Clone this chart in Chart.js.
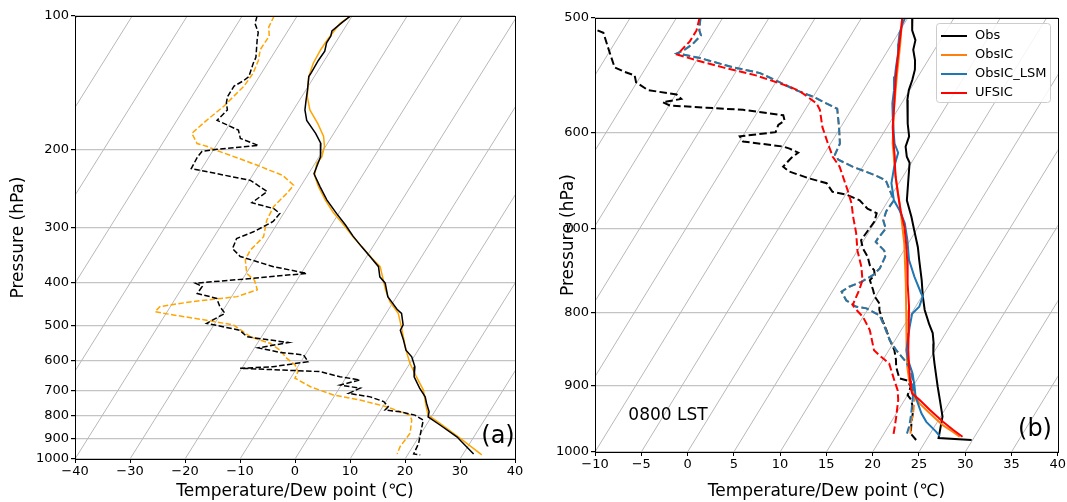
<!DOCTYPE html>
<html>
<head>
<meta charset="utf-8">
<script src="https://cdn.jsdelivr.net/npm/chart.js@4.4.1/dist/chart.umd.min.js"></script>
<style>
body { margin: 0; background: #fff; width: 1067px; height: 502px; overflow: hidden; position: relative; }
canvas { position: absolute; top: 0; }
#chartA { left: 0; }
#chartB { left: 530px; }
</style>
</head>
<body>
<canvas id="chartA" width="530" height="502"></canvas>
<canvas id="chartB" width="537" height="502"></canvas>
<script>
// ---- panel (a): pressure (hPa) and temperature / dew point (degC) ----
const aObsTempP = [100,103,108,111,115,120,126,134,137,147,155,163,172,184,194,204,208,227,243,260,279,296,314,332,349,368,388,401,430,442,459,469,498,512,539,568,588,619,652,692,724,749,782,803,838,891,974]
const aObsTemp = [-40.3,-41.0,-42.0,-41.6,-41.6,-41.0,-41.1,-41.0,-41.0,-39.7,-38.8,-37.9,-36.4,-33.3,-31.2,-30.2,-29.7,-29.0,-26.4,-23.7,-20.4,-17.5,-14.8,-12.0,-9.4,-6.7,-5.3,-3.6,-1.6,-0.3,1.5,2.8,4.4,4.5,6.2,7.8,9.6,11.3,12.3,14.6,16.6,17.6,19.0,19.4,22.5,26.9,31.9]

const aModTempP = [100,104,113,119,128,137,152,163,175,187,197,208,215,229,243,260,277,295,316,335,352,368,388,415,442,469,503,568,608,652,699,762,796,831,898,979]
const aModTemp = [-40.3,-41.4,-41.8,-41.9,-41.7,-41.0,-39.0,-37.0,-34.0,-31.5,-30.2,-29.5,-29.7,-28.7,-26.7,-24.0,-21.2,-18.0,-14.6,-11.5,-8.9,-6.4,-4.8,-2.8,-0.6,2.2,4.3,7.8,10.0,12.7,15.5,17.9,19.2,22.3,27.7,33.5]

const aObsDewP = [100,104,109,113,124,128,137,140,144,152,157,163,172,181,189,196,200,202,208,221,235,249,264,272,279,291,307,318,335,349,368,381,391,401,408,423,434,453,469,494,512,530,546,561,575,582,603,619,624,635,652,663,681,692,711,724,742,762,775,782,796,817,875,922,974,979]
const aObsDew = [-57.3,-56.8,-55.2,-54.6,-52.8,-52.6,-51.9,-52.4,-53.5,-53.5,-53.0,-52.0,-52.7,-47.7,-46.4,-42.3,-49.4,-51.9,-52.1,-51.9,-39.8,-35.5,-37.0,-32.4,-30.7,-31.0,-33.4,-35.7,-35.3,-33.0,-25.8,-19.0,-28.2,-38.1,-36.5,-36.6,-32.5,-31.0,-29.3,-31.5,-24.7,-22.6,-14.4,-19.3,-14.8,-10.3,-8.7,-14.5,-20.3,-5.4,-1.2,2.8,-0.2,3.8,2.3,6.6,9.6,11.0,10.8,13.7,16.8,18.9,19.9,20.7,21.0,22.3]

const aModDewP = [100,106,111,119,126,135,144,160,172,184,194,197,201,210,217,229,241,251,269,289,315,338,355,381,395,415,430,442,453,465,473,486,498,516,530,548,568,592,613,635,657,687,717,736,762,796,817,875,938,974]
const aModDew = [-54.2,-53.9,-52.8,-52.9,-52.0,-51.5,-51.7,-53.1,-54.6,-55.8,-53.7,-51.5,-49.4,-44.2,-40.4,-34.5,-31.4,-31.7,-32.6,-32.3,-31.0,-31.9,-31.7,-29.9,-27.7,-26.1,-29.0,-37.0,-41.9,-42.2,-38.5,-31.9,-26.5,-23.9,-22.0,-17.7,-15.1,-13.0,-10.7,-9.4,-9.2,-5.4,-0.3,5.1,10.7,15.9,16.8,18.0,17.7,18.0]

// ---- panel (b) ----
const bObsTempP = [500,510,518,526,535,543,552,561,570,579,592,604,614,624,630,651,669,687,702,721,736,760,780,797,815,827,841,854,868,887,901,920,945,978,981]
const bObsTemp = [-4.5,-3.7,-2.7,-2.3,-1.4,-0.8,-0.4,-0.1,0.4,1.1,2.0,3.0,3.3,4.1,4.8,6.0,7.0,8.6,9.8,11.3,12.3,13.9,15.1,16.2,17.6,18.6,19.4,20.0,20.8,21.9,22.7,23.8,25.2,26.2,29.9]
const bObsDewP = [510,512,526,541,545,548,554,561,565,569,572,575,577,579,584,589,593,600,604,609,614,616,620,625,634,639,646,651,660,663,669,678,683,692,702,713,722,732,742,748,754,760,772,780,789,797,810,823,836,850,863,873,889,892,901,913,920,935,953,971,981]
const bObsDew = [-37.7,-36.9,-35.2,-33.4,-32.0,-30.7,-30.1,-28.3,-24.9,-24.1,-25.9,-24.9,-20.8,-16.7,-12.0,-11.5,-11.9,-11.7,-15.3,-14.6,-9.9,-9.1,-7.9,-8.3,-8.6,-7.6,-5.0,-2.8,-1.6,0.1,1.9,3.3,4.6,4.9,4.8,4.7,5.4,6.5,7.3,8.1,8.5,8.3,9.3,9.9,10.9,11.3,12.3,13.4,14.4,15.6,16.4,16.9,18.0,19.0,19.8,20.0,20.7,21.6,22.2,22.9,23.9]

const bIcTempP = [500,521,549,579,611,644,680,717,764,797,827,850,873,892,906,925,940,958,968,976]
const bIcTemp = [-5.6,-4.1,-2.3,-0.4,1.7,4.2,7.0,9.6,12.4,14.2,15.8,16.9,18.1,19.2,20.2,21.8,23.6,25.8,27.3,28.4]
const bIcDewP = [500,510,514,521,526,529,533,541,546,554,561,567,578,595,611,622,627,634,643,648,669,681,691,700,711,715,725,732,746,754,762,768,774,785,793,795,804,819,836,850,863,877,894,916,940,958,976]
const bIcDew = [-27.4,-26.7,-26.2,-26.5,-27.0,-27.6,-24.8,-20.6,-17.3,-14.6,-12.3,-10.0,-6.6,-5.2,-4.0,-3.8,-3.1,-1.1,2.0,3.4,5.6,5.5,5.8,6.6,6.4,6.4,7.9,8.4,8.6,8.3,7.5,6.5,6.0,7.1,8.6,9.8,11.7,13.0,14.4,15.8,17.3,18.7,19.7,20.9,21.8,22.3,23.1]

const bLsmTempP = [500,504,512,521,529,541,549,561,573,585,598,611,620,634,651,669,680,694,713,736,756,776,780,793,802,819,850,863,882,901,916,940,953,968,975]
const bLsmTemp = [-5.3,-5.2,-4.9,-4.3,-3.7,-3.0,-2.5,-1.7,-1.0,-0.1,0.9,1.9,2.9,3.4,4.2,5.6,6.9,8.3,9.7,11.2,12.9,14.7,15.1,15.4,15.1,15.7,16.9,17.7,19.1,20.2,21.0,22.7,23.8,25.5,26.2]
const bLsmDewP = [500,510,514,521,526,529,533,541,546,554,561,567,578,595,611,622,627,634,643,648,669,681,691,700,711,715,725,732,746,754,762,768,774,785,793,795,804,819,836,850,863,877,894,916,940,958,976]
const bLsmDew = [-27.4,-26.7,-26.2,-26.5,-27.0,-27.6,-24.8,-20.6,-17.3,-14.6,-12.3,-10.0,-6.6,-5.2,-4.0,-3.8,-3.1,-1.1,2.0,3.4,5.6,5.5,5.8,6.6,6.4,6.4,7.9,8.4,8.6,8.3,7.5,6.5,6.0,7.1,8.6,9.8,11.7,13.0,14.4,15.8,17.3,18.7,19.7,20.7,21.6,22.2,22.6]

const bUfsTempP = [500,510,521,535,549,564,579,595,611,624,630,644,662,680,698,717,736,764,793,827,850,873,892,903,911,920,935,953,965,976]
const bUfsTemp = [-5.6,-4.9,-4.2,-3.3,-2.4,-1.4,-0.4,0.6,1.8,2.8,3.2,4.2,5.6,7.0,8.5,9.8,11.0,12.6,14.3,16.0,17.1,18.3,19.3,19.9,20.4,21.6,23.4,25.6,27.2,28.7]
const bUfsDewP = [500,510,519,528,530,535,541,548,558,562,573,579,595,611,624,634,658,672,687,705,725,744,760,772,791,796,806,823,850,859,868,892,906,920,945,960,976]
const bUfsDew = [-27.5,-27.0,-27.0,-27.4,-27.5,-25.0,-21.7,-17.6,-13.2,-11.8,-9.2,-8.4,-7.0,-5.3,-3.9,-2.5,-0.1,1.2,2.3,3.7,5.0,6.5,7.5,7.8,8.1,8.7,10.0,11.6,13.4,14.6,15.9,17.6,18.6,19.3,20.2,20.7,21.2]

const aPressTicks = [100,200,300,400,500,600,700,800,900,1000]
const bPressTicks = [500,600,700,800,900,1000]
const bLegend = [['Obs', '#000000'], ['ObsIC', '#ff7f0e'], ['ObsIC_LSM', '#1f77b4'], ['UFSIC', '#ff0000']]

// degC shift of the isotherms per decade of pressure
const A_SKEW = 50.4
const B_SKEW = 95.65

const FONT = "'DejaVu Sans', sans-serif"
Chart.defaults.font.family = FONT
Chart.defaults.color = '#000'

const skewed = (temps, pres, skew) => pres.map((p, i) => ({ x: temps[i] + skew * Math.log10(1000 / p), y: p }))

const line = (label, data, color, width, dash) => ({
    label, data,
    showLine: true,
    borderColor: color,
    borderWidth: width,
    borderDash: dash || [],
    pointRadius: 0,
    fill: false,
    tension: 0
})

const skewGrid = {
    id: 'skewGrid',
    beforeDatasetsDraw(chart, args, opts) {
        const { ctx, chartArea: a, scales: { x, y } } = chart
        ctx.save()
        ctx.beginPath()
        ctx.rect(a.left, a.top, a.right - a.left, a.bottom - a.top)
        ctx.clip()
        ctx.strokeStyle = '#b8b8b8'
        ctx.lineWidth = 1
        const top = y.min
        for (let t = opts.from; t <= opts.to; t += opts.step) {
            ctx.beginPath()
            ctx.moveTo(x.getPixelForValue(t), y.getPixelForValue(1000))
            ctx.lineTo(x.getPixelForValue(t + opts.skew * Math.log10(1000 / top)), y.getPixelForValue(top))
            ctx.stroke()
        }
        ctx.restore()
    }
}

const frame = {
    id: 'frame',
    afterDraw(chart, args, opts) {
        const { ctx, chartArea: a } = chart
        ctx.save()
        ctx.strokeStyle = '#000'
        ctx.lineWidth = 1
        ctx.strokeRect(Math.round(a.left) + 0.5, Math.round(a.top) + 0.5, Math.round(a.right - a.left), Math.round(a.bottom - a.top))
        ctx.fillStyle = '#000'
        ctx.textAlign = 'center'
        ctx.textBaseline = 'middle'
        for (const l of opts.labels || []) {
            ctx.font = l.size + 'px ' + FONT
            ctx.fillText(l.text, l.x, l.y)
        }
        if (opts.legend) {
            const L = opts.legend
            ctx.fillStyle = 'rgba(255,255,255,0.85)'
            ctx.strokeStyle = '#cccccc'
            ctx.beginPath()
            ctx.roundRect(L.x + 0.5, L.y + 0.5, L.w, L.h, 3)
            ctx.fill()
            ctx.stroke()
            ctx.font = '13px ' + FONT
            ctx.textAlign = 'left'
            L.items.forEach(([name, color], i) => {
                const yy = L.y + 13 + i * 19
                ctx.strokeStyle = color
                ctx.lineWidth = 2
                ctx.beginPath()
                ctx.moveTo(L.x + 5, yy)
                ctx.lineTo(L.x + 31, yy)
                ctx.stroke()
                ctx.fillStyle = '#000'
                ctx.fillText(name, L.x + 39, yy)
            })
        }
        ctx.restore()
    }
}

function scales(xmin, xmax, step, pTicks, yWidth, xHeight, yTitlePad) {
    return {
        x: {
            type: 'linear', min: xmin, max: xmax,
            border: { display: false },
            grid: { drawOnChartArea: false, drawTicks: true, tickLength: 4, tickColor: '#000' },
            ticks: { stepSize: step, padding: 1, font: { size: 13 }, maxRotation: 0,
                callback: v => String(v).replace('-', '\u2212') },
            title: { display: true, text: 'Temperature/Dew point (\u2103)', font: { size: 17 }, padding: { top: 0, bottom: 0 } },
            afterFit: s => { s.height = xHeight }
        },
        y: {
            type: 'logarithmic', min: pTicks[0], max: 1000, reverse: true,
            border: { display: false },
            grid: { color: '#c4c4c4', lineWidth: 1.2, tickLength: 4, tickColor: '#000' },
            ticks: { padding: 2, font: { size: 13 }, autoSkip: false, callback: v => String(v) },
            afterBuildTicks: s => { s.ticks = pTicks.map(v => ({ value: v })) },
            title: { display: true, text: 'Pressure (hPa)', font: { size: 17 }, padding: { top: yTitlePad, bottom: 0 } },
            afterFit: s => { s.width = yWidth }
        }
    }
}

const baseOpts = {
    responsive: false,
    animation: false,
    events: [],
    plugins: { legend: { display: false }, tooltip: { enabled: false } }
}

new Chart(document.getElementById('chartA'), {
    type: 'scatter',
    data: {
        datasets: [
            line('Obs T', skewed(aObsTemp, aObsTempP, A_SKEW), '#000000', 1.5),
            line('Obs Td', skewed(aObsDew, aObsDewP, A_SKEW), '#000000', 1.5, [5.5, 2.4]),
            line('Model T', skewed(aModTemp, aModTempP, A_SKEW), '#ffa500', 1.5),
            line('Model Td', skewed(aModDew, aModDewP, A_SKEW), '#ffa500', 1.5, [5.5, 2.4])
        ]
    },
    options: {
        ...baseOpts,
        layout: { padding: { top: 16, right: 15, left: 0, bottom: 0 } },
        scales: scales(-40, 40, 10, aPressTicks, 75, 43, 8),
        plugins: {
            ...baseOpts.plugins,
            skewGrid: { from: -120, to: 40, step: 10, skew: A_SKEW },
            frame: { labels: [{ text: '(a)', x: 498, y: 437, size: 24 }] }
        }
    },
    plugins: [skewGrid, frame]
})

new Chart(document.getElementById('chartB'), {
    type: 'scatter',
    data: {
        datasets: [
            line('UFSIC T', skewed(bUfsTemp, bUfsTempP, B_SKEW), '#ff0000', 2),
            line('UFSIC Td', skewed(bUfsDew, bUfsDewP, B_SKEW), '#ff0000', 2, [7.5, 3.3]),
            line('ObsIC_LSM T', skewed(bLsmTemp, bLsmTempP, B_SKEW), '#1f77b4', 2),
            line('ObsIC_LSM Td', skewed(bLsmDew, bLsmDewP, B_SKEW), '#1f77b4', 2, [7.5, 3.3]),
            line('ObsIC T', skewed(bIcTemp, bIcTempP, B_SKEW), '#ff7f0e', 2),
            line('ObsIC Td', skewed(bIcDew, bIcDewP, B_SKEW), '#ff7f0e', 2, [7.5, 3.3]),
            line('Obs T', skewed(bObsTemp, bObsTempP, B_SKEW), '#000000', 2),
            line('Obs Td', skewed(bObsDew, bObsDewP, B_SKEW), '#000000', 2, [7.5, 3.3])
        ]
    },
    options: {
        ...baseOpts,
        layout: { padding: { top: 18, right: 9, left: 0, bottom: 0 } },
        scales: scales(-10, 40, 5, bPressTicks, 65, 50, 28),
        plugins: {
            ...baseOpts.plugins,
            skewGrid: { from: -50, to: 40, step: 5, skew: B_SKEW },
            frame: {
                labels: [{ text: '(b)', x: 505, y: 430, size: 24 }, { text: '0800 LST', x: 138, y: 416, size: 17 }],
                legend: { x: 406, y: 23, w: 114, h: 79, items: bLegend }
            }
        }
    },
    plugins: [skewGrid, frame]
})
</script>
</body>
</html>
